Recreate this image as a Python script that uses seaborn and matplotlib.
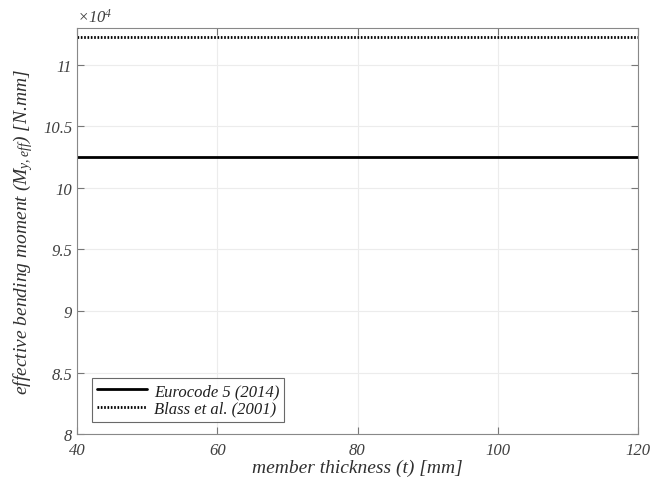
import matplotlib
matplotlib.use("Agg")
import matplotlib.pyplot as plt
import seaborn as sns
import pandas as pd
from matplotlib.ticker import FuncFormatter

thickness = [40, 60, 80, 100, 120]
eurocode = [102500, 102500, 102500, 102500, 102500]
blass = [112300, 112300, 112300, 112300, 112300]
labels = ["Eurocode 5 (2014)", "Blass et al. (2001)"]

df = pd.DataFrame({
    "t": thickness * 2,
    "M": eurocode + blass,
    "method": [labels[0]] * len(thickness) + [labels[1]] * len(thickness),
})

sns.set_theme(style="white")
plt.rcParams["font.family"] = ["Liberation Serif", "DejaVu Serif"]
plt.rcParams["font.style"] = "italic"
plt.rcParams["mathtext.fontset"] = "custom"
plt.rcParams["mathtext.rm"] = "Liberation Serif:italic"
plt.rcParams["mathtext.it"] = "Liberation Serif:italic"

fig = plt.figure(figsize=(6.5, 4.81), dpi=100)
ax = fig.add_axes([0.1185, 0.0956, 0.863, 0.844])

sns.lineplot(data=df, x="t", y="M", hue="method", style="method",
             palette={labels[0]: "black", labels[1]: "black"},
             dashes={labels[0]: "", labels[1]: (0.6, 0.6)},
             linewidth=2, ax=ax)

ax.set_xlim(40, 120)
ax.set_ylim(80000, 113000)
ax.set_xticks([40, 60, 80, 100, 120])
ax.set_yticks([80000, 85000, 90000, 95000, 100000, 105000, 110000])
ax.yaxis.set_major_formatter(FuncFormatter(lambda v, p: f"{v/1e4:g}"))
ax.grid(True, color="#ececec", linewidth=0.8)
ax.tick_params(direction="in", length=5, width=0.8, colors="#777777", labelsize=12,
               bottom=True, left=True, top=True, right=True,
               labelcolor="#404040")
ax.tick_params(axis="x", pad=6)
for s in ax.spines.values():
    s.set_color("#888888")
    s.set_linewidth(0.8)

ax.set_xlabel("member thickness (t) [mm]", fontsize=14, color="#303030", labelpad=0)
ax.set_ylabel(r"effective bending moment ($M_{y,eff}$) [N.mm]", fontsize=14,
              color="#303030", labelpad=6)
ax.text(0.0, 1.005, r"$\times10^4$", transform=ax.transAxes, fontsize=12,
        color="#404040", ha="left", va="bottom")

leg = ax.legend(loc="lower left", bbox_to_anchor=(0.027, 0.03), borderaxespad=0,
                frameon=True, fancybox=False, edgecolor="#444444", fontsize=12,
                handlelength=3.0, borderpad=0.3, labelspacing=0.1,
                handletextpad=0.4)
leg.get_frame().set_linewidth(0.8)
for t in leg.get_texts():
    t.set_color("#202020")

fig.savefig("out.png", dpi=100)
